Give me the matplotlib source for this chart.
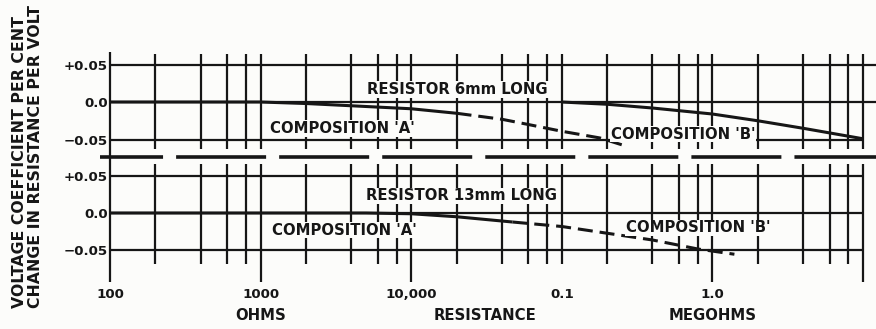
import matplotlib.pyplot as plt
from matplotlib.ticker import NullFormatter

plt.rcParams['font.family'] = 'DejaVu Sans'
plt.rcParams['font.weight'] = 'bold'
plt.rcParams['lines.scale_dashes'] = False

INK = '#161616'
BG = '#fcfcfa'

# resistance grid: 2, 4, 6, 8 steps in every decade
GRID_R = [m * d for d in (100, 1000, 10000, 100000, 1000000) for m in (2, 4, 6, 8, 10)]
LONG_R = [1000, 10000, 1000000, 10000000]   # lines run down to the scale labels
LEVELS = [0.05, 0.0, -0.05]
LEVEL_LABELS = ['+0.05', '0.0', '\u22120.05']

TICK_R = [100, 1000, 10000, 100000, 1000000]
TICK_LABELS = ['100', '1000', '10,000', '0.1', '1.0']
UNIT_R = [1000, 31000, 1000000]
UNIT_LABELS = ['OHMS', 'RESISTANCE', 'MEGOHMS']

# resistor 6mm long
r_a6 = [100, 1000, 2000, 4000, 10000, 20000]
v_a6 = [0.0, 0.0, -0.002, -0.005, -0.009, -0.015]
r_a6_dash = [20000, 40000, 60000, 100000, 180000, 250000]
v_a6_dash = [-0.015, -0.023, -0.030, -0.039, -0.048, -0.057]
r_b6 = [100000, 200000, 400000, 1000000, 2000000, 4000000, 10000000]
v_b6 = [0.0, -0.003, -0.008, -0.016, -0.025, -0.035, -0.049]

# resistor 13mm long
r_a13 = [100, 5000, 10000, 20000, 47000]
v_a13 = [0.0, 0.0, -0.001, -0.005, -0.012]
r_a13_dash = [47000, 100000, 200000, 400000, 600000, 800000, 1400000]
v_a13_dash = [-0.012, -0.018, -0.027, -0.036, -0.043, -0.048, -0.055]

W, H = 876, 329
fig = plt.figure(figsize=(W / 100, H / 100), dpi=100, facecolor=BG)


def px_axes(left, top, right, bottom):
    return fig.add_axes([left / W, 1 - bottom / H, (right - left) / W, (bottom - top) / H])


ax_top = px_axes(110, 48, 876, 157)
ax_bot = px_axes(110, 157, 876, 284)
x_right = 10 ** 7.0863

for ax in (ax_top, ax_bot):
    ax.set_xscale('log')
    ax.set_xlim(100, x_right)
    ax.set_facecolor('none')
    for s in ax.spines.values():
        s.set_visible(False)
    ax.set_yticks(LEVELS, LEVEL_LABELS)
    ax.tick_params(axis='y', length=0, pad=1.5, labelsize=9.6, colors=INK)
    ax.xaxis.set_minor_formatter(NullFormatter())
    ax.tick_params(axis='x', which='minor', length=0)

ax_top.set_ylim(-0.0733, 0.072)
ax_bot.set_ylim(-0.0947, 0.0747)

grid_kw = dict(color=INK, lw=1.6, clip_on=False, zorder=2)

# top panel grid
ax_top.vlines(100, -0.0733, 0.067, **grid_kw)
ax_top.vlines(GRID_R, -0.063, 0.064, **grid_kw)
ax_top.hlines([0.05, 0.0], 100, x_right, **grid_kw)
ax_top.hlines(-0.05, 100, 1e7, **grid_kw)

# bottom panel grid
short_r = [r for r in GRID_R if r not in LONG_R]
ax_bot.vlines(100, -0.092, 0.0747, **grid_kw)
ax_bot.vlines(short_r, -0.068, 0.065, **grid_kw)
ax_bot.vlines(LONG_R, -0.092, 0.065, **grid_kw)
ax_bot.hlines(LEVELS, 100, 1e7, **grid_kw)

# broken rule between the two panels
ax_top.axhline(-0.0733, xmin=-10 / 766, xmax=1, color=INK, lw=2.6,
               linestyle=(19.4, (64.8, 9.4)), clip_on=False, zorder=3)

curve_kw = dict(color=INK, lw=2.2, solid_capstyle='butt', zorder=4)
dash_kw = dict(color=INK, lw=2.2, dashes=(10.8, 5), zorder=4)

ax_top.plot(r_a6, v_a6, **curve_kw)
ax_top.plot(r_a6_dash, v_a6_dash, **dash_kw)
ax_top.plot(r_b6, v_b6, **curve_kw)

ax_bot.plot(r_a13, v_a13, **curve_kw)
ax_bot.plot(r_a13_dash, v_a13_dash, **dash_kw)

label_kw = dict(ha='center', va='center', color=INK, zorder=6,
                bbox=dict(fc=BG, ec='none', pad=0.6))
ax_top.text(20300, 0.017, 'RESISTOR 6mm LONG', fontsize=10.7, **label_kw)
ax_top.text(3470, -0.035, "COMPOSITION 'A'", fontsize=10.7, **label_kw)
ax_top.text(638000, -0.0427, "COMPOSITION 'B'", fontsize=10.7, **label_kw)
ax_bot.text(21700, 0.0227, 'RESISTOR 13mm LONG', fontsize=10.7, **label_kw)
ax_bot.text(3580, -0.0227, "COMPOSITION 'A'", fontsize=10.7, **label_kw)
ax_bot.text(802000, -0.02, "COMPOSITION 'B'", fontsize=10.7, **label_kw)

# resistance scale
ax_top.tick_params(axis='x', which='both', bottom=False, labelbottom=False)
ax_bot.set_xticks(TICK_R, TICK_LABELS)
ax_bot.tick_params(axis='x', which='major', length=0, pad=3, labelsize=9.6, colors=INK)
for name, r in zip(UNIT_LABELS, UNIT_R):
    ax_bot.annotate(name, xy=(r, 0), xycoords=ax_bot.get_xaxis_transform(),
                    xytext=(0, -23), textcoords='offset points',
                    ha='center', va='center', fontsize=10.7, color=INK)

fig.text(27.5 / W, 1 - 157 / H,
         'VOLTAGE COEFFICIENT PER CENT\nCHANGE IN RESISTANCE PER VOLT',
         rotation=90, ha='center', va='center', multialignment='left',
         linespacing=1.1, fontsize=11.3, color=INK)

fig.savefig('out.png', dpi=100, facecolor=BG)
